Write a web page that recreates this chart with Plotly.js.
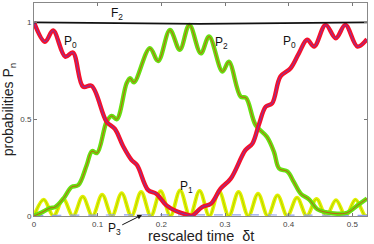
<!DOCTYPE html>
<html><head><meta charset="utf-8">
<script src="https://cdn.plot.ly/plotly-3.0.1.min.js"></script>
<style>html,body{margin:0;padding:0;background:#fff}#c{width:374px;height:244px}</style>
</head><body><div id="c"></div>
<script>
// rescaled time samples and probabilities
const tP0 = [0, 0.0173, 0.030, 0.049, 0.061, 0.077, 0.0905, 0.114, 0.127, 0.14, 0.153, 0.162, 0.179, 0.192, 0.208, 0.224, 0.24, 0.248, 0.264, 0.278, 0.293, 0.309, 0.332, 0.343, 0.353, 0.364, 0.374, 0.387, 0.403, 0.416, 0.429, 0.44, 0.458, 0.474, 0.489, 0.508, 0.523];
const P0  = [1.0, 0.90, 0.958, 0.823, 0.844, 0.668, 0.672, 0.487, 0.45, 0.36, 0.29, 0.262, 0.135, 0.115, 0.055, 0.024, 0.007, 0.002, 0.046, 0.064, 0.141, 0.193, 0.34, 0.374, 0.47, 0.565, 0.582, 0.72, 0.763, 0.84, 0.91, 0.875, 0.987, 0.918, 0.987, 0.875, 0.913];

const tP2 = [0, 0.012, 0.025, 0.033, 0.046, 0.059, 0.0695, 0.0827, 0.091, 0.099, 0.114, 0.122, 0.13, 0.1455, 0.151, 0.157, 0.182, 0.195, 0.2135, 0.229, 0.244, 0.262, 0.275, 0.296, 0.306, 0.3245, 0.333, 0.348, 0.366, 0.377, 0.385, 0.398, 0.408, 0.419, 0.432, 0.445, 0.458, 0.476, 0.492, 0.508, 0.523];
const P2  = [0, 0.018, 0.041, 0.046, 0.089, 0.15, 0.159, 0.262, 0.335, 0.325, 0.486, 0.517, 0.50, 0.686, 0.712, 0.69, 0.867, 0.80, 0.961, 0.858, 0.987, 0.84, 0.927, 0.746, 0.797, 0.617, 0.61, 0.47, 0.408, 0.33, 0.245, 0.23, 0.176, 0.115, 0.086, 0.035, 0.02, 0.012, 0.017, 0.055, 0.09];

const tP1 = [0, 0.0153, 0.0306, 0.0459, 0.0612, 0.0765, 0.0918, 0.1071, 0.1224, 0.1377, 0.153, 0.1683, 0.1836, 0.1989, 0.2142, 0.2295, 0.2448, 0.2601, 0.2754, 0.2907, 0.306, 0.3213, 0.3366, 0.3519, 0.3672, 0.3825, 0.3978, 0.4131, 0.4284, 0.4437, 0.459, 0.4743, 0.4896, 0.5049, 0.5202, 0.523];
const P1  = [0, 0.085, 0, 0.088, 0, 0.10, 0, 0.11, 0, 0.118, 0, 0.124, 0, 0.128, 0, 0.132, 0, 0.13, 0, 0.128, 0, 0.124, 0, 0.115, 0, 0.107, 0, 0.095, 0, 0.088, 0, 0.082, 0, 0.085, 0, 0.008];

const tP3 = [0, 0.1, 0.2, 0.25, 0.3, 0.4, 0.523];
const P3  = [0.003, 0.005, 0.006, 0.006, 0.006, 0.005, 0.003];

const tF2 = [0, 0.13, 0.26, 0.39, 0.523];
const F2  = [1.0, 0.996, 0.992, 0.996, 1.0];

const xTicks = [0, 0.1, 0.2, 0.3, 0.4, 0.5];
const xTickText = ['0', '0.1', '0.2', '0.3', '0.4', '0.5'];
const yTicks = [0, 0.5, 1];
const yTickText = ['0', '0.5', '1'];

function sp(x, y, color, w, dash) {
  return {x: x, y: y, type: 'scatter', mode: 'lines', hoverinfo: 'skip',
    line: {color: color, width: w, shape: 'spline', smoothing: 1, dash: dash || 'solid'}};
}
const traces = [
  sp(tP1, P1, '#e4f000', 3.8), sp(tP1, P1, '#a6d000', 0.9),
  sp(tP3, P3, '#8fa0f0', 1.2, 'dash'),
  sp(tP2, P2, '#66e010', 4.4), sp(tP2, P2, '#d04010', 0.8),
  sp(tP0, P0, '#f5102a', 4.4), sp(tP0, P0, '#6040c8', 0.8),
  {x: tF2, y: F2, type: 'scatter', mode: 'lines', hoverinfo: 'skip', line: {color: '#111', width: 1.6}}
];
const af = {family: 'Liberation Sans, Arial, sans-serif', size: 12, color: '#111'};
const layout = {
  width: 374, height: 244, showlegend: false,
  margin: {l: 34, r: 7, t: 3, b: 28},
  paper_bgcolor: '#fff', plot_bgcolor: '#fff',
  xaxis: {range: [0, 0.523], tickvals: xTicks, ticktext: xTickText, ticks: 'inside', ticklen: 3,
    tickcolor: '#777', showline: true, linecolor: '#888', linewidth: 1, mirror: 'ticks',
    showgrid: false, zeroline: false, tickfont: {family: 'Liberation Sans, Arial', size: 8, color: '#444'}},
  yaxis: {range: [0, 1.1], tickvals: yTicks, ticktext: yTickText, ticks: 'inside', ticklen: 3,
    tickcolor: '#777', showline: true, linecolor: '#888', linewidth: 1, mirror: 'ticks',
    showgrid: false, zeroline: false, tickfont: {family: 'Liberation Sans, Arial', size: 8, color: '#444'},
    title: {text: 'probabilities P<sub>n</sub>', font: {family: 'Liberation Sans, Arial', size: 14, color: '#222'}, standoff: 6}},
  annotations: [
    {xref: 'paper', yref: 'paper', x: 0.5, y: -0.092, yanchor: 'middle', showarrow: false,
      text: 'rescaled time  δt', font: {family: 'Liberation Sans, Arial', size: 14.5, color: '#222'}},
    {x: 0.13, y: 1.045, text: 'F<sub>2</sub>', showarrow: false, font: af},
    {x: 0.057, y: 0.90, text: 'P<sub>0</sub>', showarrow: false, font: af},
    {x: 0.294, y: 0.894, text: 'P<sub>2</sub>', showarrow: false, font: af},
    {x: 0.402, y: 0.90, text: 'P<sub>0</sub>', showarrow: false, font: af},
    {x: 0.24, y: 0.15, text: 'P<sub>1</sub>', showarrow: false, font: af},
    {x: 0.17, y: 0.006, text: 'P<sub>3</sub>', showarrow: true, arrowhead: 2, arrowsize: 1, arrowwidth: 1,
      arrowcolor: '#111', ax: -28, ay: 14, font: af, standoff: 0}
  ]
};
Plotly.newPlot('c', traces, layout, {staticPlot: true});
</script></body></html>
